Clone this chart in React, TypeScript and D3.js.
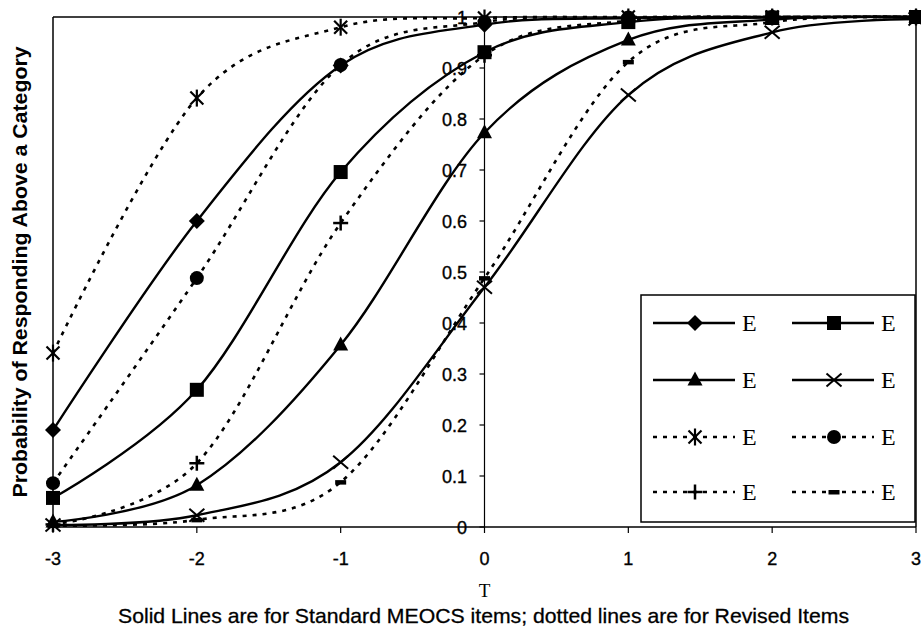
import * as d3 from 'd3'

// Ability levels where each item curve is sampled
const theta = [-3, -2, -1, 0, 1, 2, 3]
const yTicks = [0, 0.1, 0.2, 0.3, 0.4, 0.5, 0.6, 0.7, 0.8, 0.9, 1]

// Standard MEOCS items (solid)
const stdDiamond = [0.19, 0.6, 0.905, 0.985, 0.998, 1, 1]
const stdSquare = [0.057, 0.269, 0.696, 0.931, 0.99, 0.999, 1]
const stdTriangle = [0.01, 0.082, 0.357, 0.773, 0.955, 0.995, 1]
const stdCross = [0.004, 0.023, 0.127, 0.47, 0.847, 0.97, 0.996]

// Revised items (dotted)
const revStar = [0.341, 0.841, 0.98, 0.998, 1, 1, 1]
const revCircle = [0.086, 0.488, 0.906, 0.99, 0.999, 1, 1]
const revPlus = [0.005, 0.125, 0.596, 0.925, 0.993, 1, 1]
const revDash = [0.003, 0.014, 0.088, 0.488, 0.912, 0.99, 1]

type Shape = 'diamond' | 'square' | 'triangle' | 'cross' | 'star' | 'circle' | 'plus' | 'dash'

const series: { name: string; values: number[]; shape: Shape; dotted: boolean }[] = [
  { name: 'E', values: stdDiamond, shape: 'diamond', dotted: false },
  { name: 'E', values: stdSquare, shape: 'square', dotted: false },
  { name: 'E', values: stdTriangle, shape: 'triangle', dotted: false },
  { name: 'E', values: stdCross, shape: 'cross', dotted: false },
  { name: 'E', values: revStar, shape: 'star', dotted: true },
  { name: 'E', values: revCircle, shape: 'circle', dotted: true },
  { name: 'E', values: revPlus, shape: 'plus', dotted: true },
  { name: 'E', values: revDash, shape: 'dash', dotted: true },
]

const W = 921
const H = 629
const plot = { left: 53, right: 916, top: 17, bottom: 527 }

const sans = "Arial, 'Liberation Sans', sans-serif"
const serif = "'Times New Roman', 'Liberation Serif', serif"

const Marker = ({ shape, x, y }: { shape: Shape; x: number; y: number }) => {
  switch (shape) {
    case 'diamond':
      return <polygon points={`${x},${y - 8} ${x + 8},${y} ${x},${y + 8} ${x - 8},${y}`} fill="#000" />
    case 'square':
      return <rect x={x - 7} y={y - 7} width={14} height={14} fill="#000" />
    case 'triangle':
      return <polygon points={`${x},${y - 8.5} ${x + 7.5},${y + 5.5} ${x - 7.5},${y + 5.5}`} fill="#000" />
    case 'cross':
      return (
        <g stroke="#000" strokeWidth={2}>
          <line x1={x - 7.5} y1={y - 6.5} x2={x + 7.5} y2={y + 6.5} />
          <line x1={x - 7.5} y1={y + 6.5} x2={x + 7.5} y2={y - 6.5} />
        </g>
      )
    case 'star':
      return (
        <g stroke="#000" strokeWidth={2.2}>
          <line x1={x - 6.5} y1={y - 6.5} x2={x + 6.5} y2={y + 6.5} />
          <line x1={x - 6.5} y1={y + 6.5} x2={x + 6.5} y2={y - 6.5} />
          <line x1={x} y1={y - 8.5} x2={x} y2={y + 8.5} />
        </g>
      )
    case 'circle':
      return <circle cx={x} cy={y} r={7} fill="#000" />
    case 'plus':
      return (
        <g stroke="#000" strokeWidth={2.5}>
          <line x1={x - 7.5} y1={y} x2={x + 7.5} y2={y} />
          <line x1={x} y1={y - 7.5} x2={x} y2={y + 7.5} />
        </g>
      )
    case 'dash':
      return <rect x={x - 5.5} y={y - 2} width={11} height={4.5} fill="#000" />
  }
}

const App = () => {
  const x = d3.scaleLinear().domain([-3, 3]).range([plot.left, plot.right])
  const y = d3.scaleLinear().domain([0, 1]).range([plot.bottom, plot.top])
  const line = d3
    .line<number>()
    .x((_, i) => x(theta[i]))
    .y((d) => y(d))
    .curve(d3.curveCatmullRom.alpha(0))

  const dotDash = '4,6'

  // legend layout
  const lg = { x: 641, y: 295, w: 274, h: 227 }
  const rowY = [323, 380, 437, 492]
  const colX = [653, 792]

  return (
    <svg
      width={W}
      height={H}
      style={{ position: 'absolute', left: 0, top: 0, background: '#fff' }}
      fontFamily={sans}
    >
      <rect x={0} y={0} width={W} height={H} fill="#fff" />

      {/* plot frame */}
      <line x1={plot.left} y1={plot.top} x2={plot.right} y2={plot.top} stroke="#000" strokeWidth={1.5} />
      <line x1={plot.left} y1={plot.top} x2={plot.left} y2={plot.bottom} stroke="#000" strokeWidth={1.5} />
      <line x1={plot.right} y1={plot.top} x2={plot.right} y2={plot.bottom} stroke="#000" strokeWidth={1.5} />

      {/* x axis at y = 0 */}
      <line x1={plot.left} y1={y(0)} x2={plot.right} y2={y(0)} stroke="#000" strokeWidth={1.5} />
      {theta.map((t) => (
        <g key={t}>
          <line x1={x(t)} y1={y(0)} x2={x(t)} y2={y(0) + 6} stroke="#000" strokeWidth={1.2} />
          <text x={x(t)} y={565} textAnchor="middle" fontSize={18} stroke="#000" strokeWidth={0.35}>
            {t}
          </text>
        </g>
      ))}

      {/* y axis crossing at theta = 0 */}
      <line x1={x(0)} y1={plot.top} x2={x(0)} y2={plot.bottom} stroke="#000" strokeWidth={1.2} />
      {yTicks.map((v) => (
        <g key={v}>
          <line x1={x(0) - 5} y1={y(v)} x2={x(0)} y2={y(v)} stroke="#000" strokeWidth={1.2} />
          <text x={467} y={y(v) + 6.5} textAnchor="end" fontSize={18} stroke="#000" strokeWidth={0.35}>
            {v}
          </text>
        </g>
      ))}

      {/* curves */}
      {series.map((s, i) => (
        <path
          key={i}
          d={line(s.values) ?? ''}
          fill="none"
          stroke="#000"
          strokeWidth={s.dotted ? 2.6 : 2.4}
          strokeDasharray={s.dotted ? dotDash : undefined}
        />
      ))}
      {series.map((s, i) => (
        <g key={`m${i}`}>
          {s.values.map((v, j) => (
            <Marker key={j} shape={s.shape} x={x(theta[j])} y={y(v)} />
          ))}
        </g>
      ))}

      {/* legend */}
      <rect x={lg.x} y={lg.y} width={lg.w} height={lg.h} fill="#fff" stroke="#000" strokeWidth={1.5} />
      {series.map((s, i) => {
        const cx = colX[i % 2]
        const cy = rowY[Math.floor(i / 2)]
        return (
          <g key={`l${i}`}>
            <line
              x1={cx}
              y1={cy}
              x2={cx + 82}
              y2={cy}
              stroke="#000"
              strokeWidth={s.dotted ? 2.6 : 2.4}
              strokeDasharray={s.dotted ? dotDash : undefined}
            />
            <Marker shape={s.shape} x={cx + 42} y={cy} />
            <text x={cx + 89} y={cy + 8} fontFamily={serif} fontSize={24}>
              {s.name}
            </text>
          </g>
        )
      })}

      {/* titles */}
      <text
        transform="translate(27,272) rotate(-90)"
        textAnchor="middle"
        fontSize={20}
        fontWeight="bold"
        textLength={451}
        lengthAdjust="spacingAndGlyphs"
      >
        Probability of Responding Above a Category
      </text>
      <text x={x(0)} y={597} textAnchor="middle" fontFamily={serif} fontSize={19}>
        T
      </text>
      <text
        x={483.5}
        y={623}
        textAnchor="middle"
        fontSize={21}
        stroke="#000"
        strokeWidth={0.3}
        textLength={731}
        lengthAdjust="spacingAndGlyphs"
      >
        Solid Lines are for Standard MEOCS items; dotted lines are for Revised Items
      </text>
    </svg>
  )
}

export default App
